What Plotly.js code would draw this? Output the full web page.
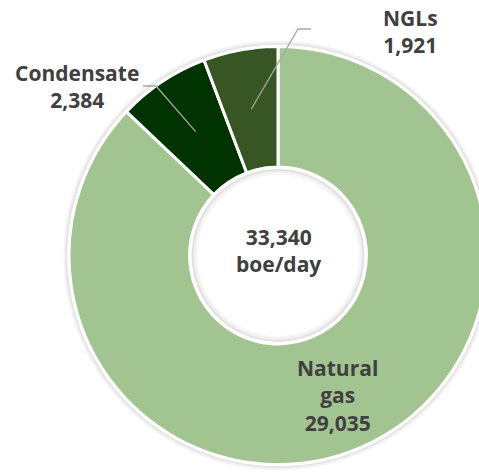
<!DOCTYPE html>
<html>
<head>
<meta charset="utf-8">
<script src="https://cdn.plot.ly/plotly-3.0.1.min.js"></script>
<style>
html,body{margin:0;padding:0;overflow:hidden;background:#fff;width:479px;height:476px;}
#chart{position:absolute;left:0;top:0;width:560px;height:520px;}
</style>
</head>
<body>
<div id="chart"></div>
<script>
// ---- data ----
var categories = ["Natural gas", "Condensate", "NGLs"];
var labelLines = ["Natural<br>gas", "Condensate", "NGLs"];
var values = [29035, 2384, 1921];
var colors = ["#A2C490", "#003300", "#375623"];
var unitLabel = "boe/day";

// ---- layout helpers ----
var W = 560, H = 520;
var CX = 278, CY = 255.5, R = 209;
var HOLE = 0.423;
function px(x){ return x / W; }
function py(y){ return 1 - y / H; }
function fmt(v){ return v.toLocaleString("en-US"); }

var total = values.reduce(function(a,b){return a+b;}, 0);

// label anchor positions (pixels) for each category, and leader-line elbows
var labelPos = [[337, 395], [77, 87], [410, 31]];
var elbows = [null, [[156, 86], [143, 86]], [[298, 29], [311, 29]]];

var textFont = {family: "Open Sans, sans-serif", size: 21, color: "#404040"};

var annotations = [];
categories.forEach(function(c, i){
  annotations.push({
    xref: "paper", yref: "paper",
    x: px(labelPos[i][0]), y: py(labelPos[i][1]),
    text: "<b>" + labelLines[i] + "<br>" + fmt(values[i]) + "</b>",
    showarrow: false, font: textFont, xanchor: "center", yanchor: "middle"
  });
});
annotations.push({
  xref: "paper", yref: "paper", x: px(CX), y: py(250),
  text: "<b>" + fmt(total) + "<br>" + unitLabel + "</b>",
  showarrow: false, font: textFont, xanchor: "center", yanchor: "middle"
});

// leader lines: start at ring mid-radius along each slice's mid angle
var shapes = [];
var cum = 0;
var midR = R * (1 + HOLE) / 2;
values.forEach(function(v, i){
  var a0 = cum / total * 2 * Math.PI;
  cum += v;
  var a1 = cum / total * 2 * Math.PI;
  if (!elbows[i]) return;
  var am = (a0 + a1) / 2;
  var sx = CX + midR * Math.sin(am);
  var sy = CY - midR * Math.cos(am);
  var e = elbows[i];
  var path = "M" + px(sx) + "," + py(sy) + " L" + px(e[0][0]) + "," + py(e[0][1]) + " L" + px(e[1][0]) + "," + py(e[1][1]);
  shapes.push({type: "path", xref: "paper", yref: "paper", path: path,
    line: {color: "#A6A6A6", width: 1.3}, layer: "above"});
});

// subtle shadow rings around outer edge and inside hole
var holeR = R * HOLE;
[[R + 2.5, "rgba(0,0,0,0.10)", 2], [R + 4.5, "rgba(0,0,0,0.05)", 2],
 [holeR - 3, "rgba(0,0,0,0.12)", 2], [holeR - 5, "rgba(0,0,0,0.06)", 2], [holeR - 7, "rgba(0,0,0,0.03)", 2]].forEach(function(s){
  shapes.push({type: "circle", xref: "paper", yref: "paper",
    x0: px(CX - s[0]), x1: px(CX + s[0]), y0: py(CY + s[0]), y1: py(CY - s[0]),
    line: {color: s[1], width: s[2]}, layer: "below"});
});

var trace = {
  type: "pie",
  labels: categories,
  values: values,
  sort: false,
  direction: "clockwise",
  rotation: 0,
  hole: HOLE,
  textinfo: "none",
  hoverinfo: "none",
  marker: {colors: colors, line: {color: "#ffffff", width: 3}},
  domain: {x: [px(CX - R), px(CX + R)], y: [py(CY + R), py(CY - R)]},
  showlegend: false
};

var layout = {
  width: W, height: H,
  margin: {l: 0, r: 0, t: 0, b: 0},
  paper_bgcolor: "#ffffff",
  plot_bgcolor: "#ffffff",
  showlegend: false,
  annotations: annotations,
  shapes: shapes
};

Plotly.newPlot("chart", [trace], layout, {displayModeBar: false, staticPlot: true});
</script>
</body>
</html>
